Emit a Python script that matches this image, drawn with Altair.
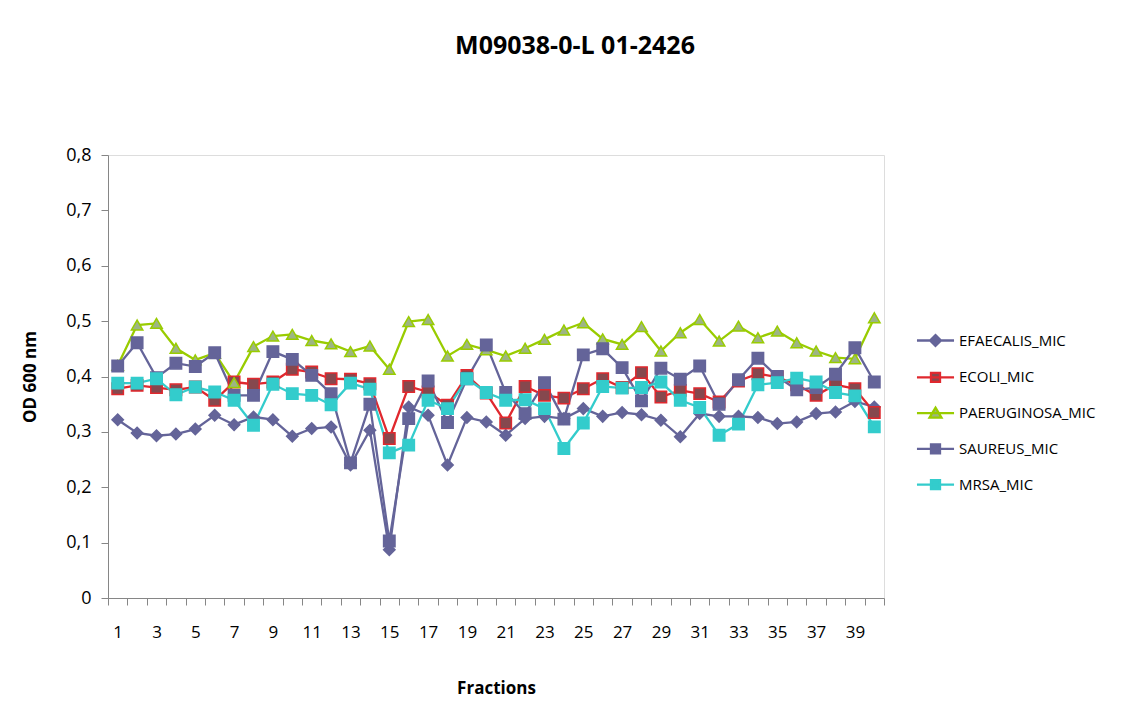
import altair as alt
import pandas as pd

fractions = list(range(1, 41))
series_names = ["EFAECALIS_MIC", "ECOLI_MIC", "PAERUGINOSA_MIC", "SAUREUS_MIC", "MRSA_MIC"]

efaecalis = [0.322, 0.298, 0.293, 0.296, 0.305, 0.330, 0.313, 0.327, 0.322, 0.292,
             0.306, 0.309, 0.240, 0.303, 0.087, 0.345, 0.330, 0.240, 0.326, 0.318,
             0.294, 0.324, 0.328, 0.324, 0.342, 0.328, 0.335, 0.331, 0.321, 0.291,
             0.333, 0.328, 0.328, 0.326, 0.315, 0.318, 0.333, 0.336, 0.355, 0.345]
ecoli = [0.378, 0.384, 0.380, 0.376, 0.381, 0.357, 0.390, 0.386, 0.390, 0.413,
         0.408, 0.396, 0.395, 0.387, 0.288, 0.382, 0.372, 0.348, 0.402, 0.370,
         0.316, 0.382, 0.366, 0.361, 0.378, 0.396, 0.380, 0.407, 0.363, 0.375,
         0.369, 0.354, 0.392, 0.405, 0.399, 0.385, 0.366, 0.385, 0.378, 0.335]
paeruginosa = [0.420, 0.493, 0.496, 0.451, 0.430, 0.442, 0.389, 0.454, 0.473, 0.476,
               0.465, 0.459, 0.445, 0.455, 0.413, 0.499, 0.503, 0.437, 0.458, 0.448,
               0.437, 0.451, 0.467, 0.484, 0.497, 0.468, 0.458, 0.490, 0.446, 0.479,
               0.503, 0.464, 0.491, 0.470, 0.482, 0.461, 0.446, 0.434, 0.432, 0.506]
saureus = [0.419, 0.461, 0.398, 0.424, 0.418, 0.443, 0.366, 0.366, 0.445, 0.431,
           0.402, 0.369, 0.244, 0.350, 0.103, 0.324, 0.392, 0.317, 0.396, 0.457,
           0.371, 0.333, 0.389, 0.323, 0.439, 0.450, 0.416, 0.356, 0.415, 0.395,
           0.419, 0.350, 0.394, 0.433, 0.400, 0.376, 0.380, 0.404, 0.452, 0.390]
mrsa = [0.388, 0.388, 0.396, 0.367, 0.381, 0.372, 0.357, 0.312, 0.386, 0.369,
        0.366, 0.349, 0.388, 0.377, 0.262, 0.276, 0.357, 0.342, 0.396, 0.371,
        0.357, 0.358, 0.342, 0.270, 0.316, 0.382, 0.379, 0.380, 0.390, 0.357,
        0.344, 0.294, 0.314, 0.385, 0.389, 0.397, 0.390, 0.371, 0.365, 0.309]

y_ticks = [0, 0.1, 0.2, 0.3, 0.4, 0.5, 0.6, 0.7, 0.8]

rows = []
for name, vals in zip(series_names, [efaecalis, ecoli, paeruginosa, saureus, mrsa]):
    for f, v in zip(fractions, vals):
        rows.append({"Fraction": f, "Series": name, "Value": v, "Key": name})
df = pd.DataFrame(rows)

line_colors = ["#646499", "#E0282E", "#99CC00", "#646499", "#33CCCC"]
fill_colors = ["#646499", "#86484E", "#9DB584", "#646499", "#33CCCC"]
shapes = ["diamond", "square", "triangle-up", "square", "square"]
sizes = [130, 130, 170, 130, 130]
LINE = "M-1.03,0L1.03,0"
legend_shapes = [
    LINE + "M0,-0.3L0.3,0L0,0.3L-0.3,0Z",
    LINE + "M-0.25,-0.25L0.25,-0.25L0.25,0.25L-0.25,0.25Z",
    LINE + "M0,-0.3L0.33,0.25L-0.33,0.25Z",
    LINE + "M-0.25,-0.25L0.25,-0.25L0.25,0.25L-0.25,0.25Z",
    LINE + "M-0.25,-0.25L0.25,-0.25L0.25,0.25L-0.25,0.25Z",
]

FONT = "Open Sans"
AXIS_GRAY = "#868686"

x_enc = alt.X(
    "Fraction:O",
    scale=alt.Scale(type="band", paddingInner=0, paddingOuter=0),
    bandPosition=0.5,
    sort="ascending",
    axis=alt.Axis(
        title="Fractions",
        titleFont=FONT, titleFontSize=17, titleFontWeight="bold", titleColor="#000000",
        titlePadding=40,
        labelFont=FONT, labelFontSize=17, labelColor="#000000", labelAngle=0,
        labelPadding=19, labelExpr="datum.value % 2 == 1 ? datum.label : ''",
        labelOverlap=False,
        tickBand="extent", tickSize=7, tickColor=AXIS_GRAY, tickWidth=1,
        domainColor=AXIS_GRAY, domainWidth=1, grid=False,
    ),
)
y_enc = alt.Y(
    "Value:Q",
    scale=alt.Scale(domain=[0, 0.8], nice=False, zero=True),
    axis=alt.Axis(
        title="OD 600 nm",
        titleFont=FONT, titleFontSize=17, titleFontWeight="bold", titleColor="#000000",
        titlePadding=26,
        values=y_ticks,
        labelExpr="datum.value == 0 ? '0' : replace(format(datum.value, '.1f'), '.', ',')",
        labelFont=FONT, labelFontSize=18, labelColor="#000000", labelPadding=10,
        tickSize=7, tickColor=AXIS_GRAY, domainColor=AXIS_GRAY, grid=False,
    ),
)

base = alt.Chart(df)

lines = base.mark_line(strokeWidth=2.3).encode(
    x=x_enc, y=y_enc,
    color=alt.Color("Series:N", scale=alt.Scale(domain=series_names, range=line_colors), legend=None),
)

points = base.mark_point(filled=True, strokeWidth=1.5, opacity=1).encode(
    x=x_enc, y=y_enc,
    shape=alt.Shape("Series:N", scale=alt.Scale(domain=series_names, range=shapes), legend=None),
    fill=alt.Fill("Series:N", scale=alt.Scale(domain=series_names, range=fill_colors), legend=None),
    stroke=alt.Stroke("Series:N", scale=alt.Scale(domain=series_names, range=line_colors), legend=None),
    size=alt.Size("Series:N", scale=alt.Scale(domain=series_names, range=sizes), legend=None),
)

legend = alt.Legend(
    title=None, orient="none", legendX=808, legendY=166, padding=0, offset=0,
    symbolSize=1296, symbolStrokeWidth=2.3, symbolOpacity=1,
    labelFont=FONT, labelFontSize=15, labelColor="#000000", labelOffset=4,
    rowPadding=6.8, labelLimit=300,
)

legend_layer = base.mark_point(filled=True, strokeWidth=2.3, opacity=0).encode(
    x=x_enc, y=y_enc,
    shape=alt.Shape("Key:N", scale=alt.Scale(domain=series_names, range=legend_shapes), legend=legend),
    fill=alt.Fill("Key:N", scale=alt.Scale(domain=series_names, range=fill_colors), legend=legend),
    stroke=alt.Stroke("Key:N", scale=alt.Scale(domain=series_names, range=line_colors), legend=legend),
)

chart = alt.layer(lines, points, legend_layer).resolve_scale(
    shape="independent", fill="independent", stroke="independent", size="independent"
).properties(
    width=776, height=443,
    padding={"left": 100, "top": 147, "right": 244, "bottom": 110},
    autosize=alt.AutoSizeParams(type="none"),
    title=alt.TitleParams(
        "M09038-0-L 01-2426", font=FONT, fontSize=25, fontWeight="bold", color="#000000",
        anchor="middle", frame="group", dx=79, offset=87,
    ),
).configure_view(strokeWidth=0).configure(background="#ffffff")

chart.save("out.html", embed_options={"renderer": "svg", "actions": False})
